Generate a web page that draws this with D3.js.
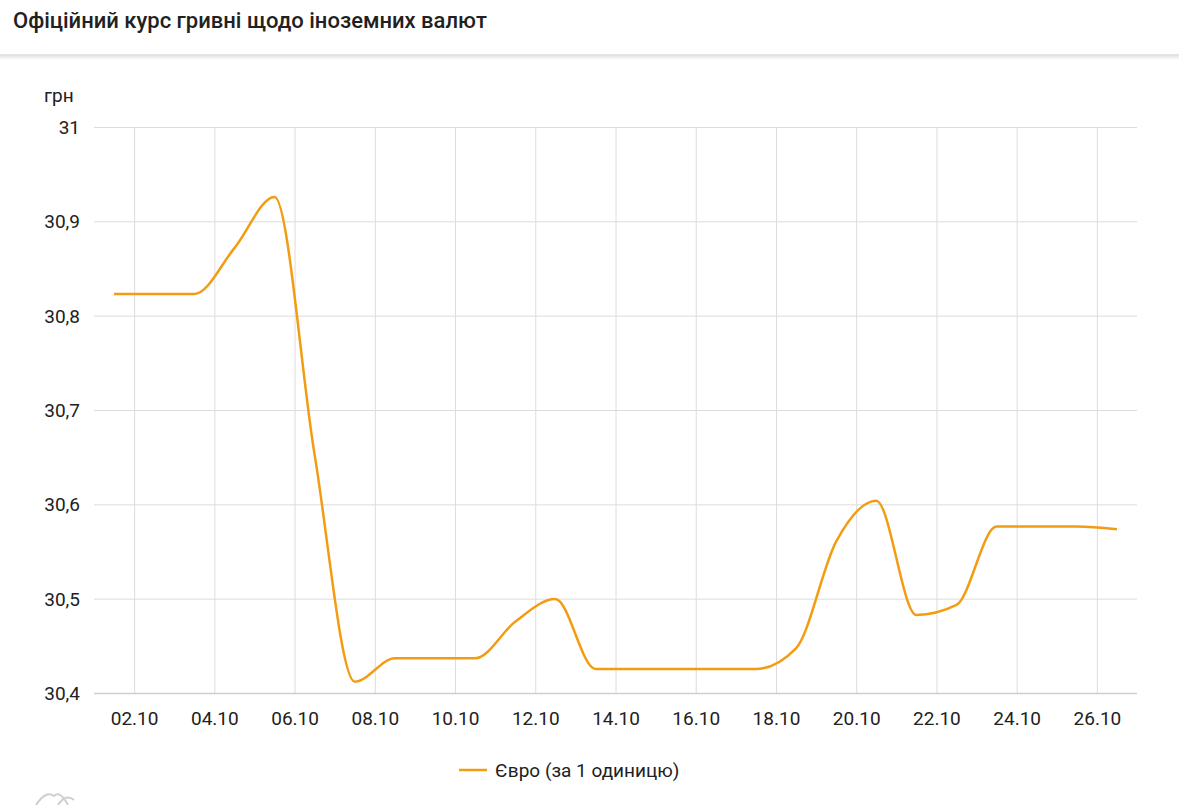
<!DOCTYPE html>
<html>
<head>
<meta charset="utf-8">
<script src="https://cdn.jsdelivr.net/npm/d3@7"></script>
<style>
  html, body { margin: 0; padding: 0; background: #fff; }
  svg { display: block; font-family: Roboto, "Noto Sans", sans-serif; }
</style>
</head>
<body>
<svg id="chart" width="1179" height="805"></svg>
<script>
// ---- data ----
const title = "Офіційний курс гривні щодо іноземних валют";
const unitLabel = "грн";
const seriesName = "Євро (за 1 одиницю)";
const days = [1,2,3,4,5,6,7,8,9,10,11,12,13,14,15,16,17,18,19,20,21,22,23,24,25,26];
const euro = [30.8229,30.8229,30.8229,30.8716,30.9257,30.6524,30.4120,30.4368,30.4368,30.4368,
              30.4756,30.4997,30.4255,30.4255,30.4255,30.4255,30.4255,30.4474,30.5605,30.6039,
              30.4827,30.4933,30.5764,30.5764,30.5764,30.5736];
const xTickDays = [2,4,6,8,10,12,14,16,18,20,22,24,26];
const yTicks = [30.4,30.5,30.6,30.7,30.8,30.9,31];

(function () {
const svg = d3.select("#chart");
const W = 1179;

// header
svg.append("text").attr("x", 13).attr("y", 28)
  .attr("font-size", 22).attr("font-weight", 500).attr("fill", "#212121").text(title);
const defs = svg.append("defs");
const grad = defs.append("linearGradient").attr("id","sh").attr("x1",0).attr("x2",0).attr("y1",0).attr("y2",1);
grad.append("stop").attr("offset","0").attr("stop-color","#000").attr("stop-opacity",0.12);
grad.append("stop").attr("offset","1").attr("stop-color","#000").attr("stop-opacity",0);
svg.append("rect").attr("x",0).attr("y",54).attr("width",W).attr("height",1).attr("fill","#e4e4e4");
svg.append("rect").attr("x",0).attr("y",55).attr("width",W).attr("height",5).attr("fill","url(#sh)");

// scales
const pl = 94, pr = 1137, pt = 127, pb = 693;
// data points (published at midday) on day scale
const x = d3.scaleLinear().domain([0.5, 26.5]).range([pl, pr]);
// date ticks at start of day
const xT = d3.scaleLinear().domain([1, 27]).range([pl, pr]);
const y = d3.scaleLinear().domain([30.4, 31]).range([pb, pt]);

const g = svg.append("g");

// horizontal grid + y labels
const ya = g.append("g").attr("transform", `translate(${pl},0)`)
  .call(d3.axisLeft(y).tickValues(yTicks).tickSize(-(pr-pl))
    .tickFormat(v => v === 31 ? "31" : d3.format(".1f")(v).replace(".", ",")));
ya.select(".domain").remove();
ya.selectAll(".tick line").attr("stroke", "#dcdcdc").attr("stroke-width", 1);
ya.selectAll(".tick text").attr("x", -14).attr("dy", "0.35em")
  .attr("font-size", 19).attr("fill", "#212121").attr("font-family", "Roboto, sans-serif");

// vertical grid + x labels
const xa = g.append("g").attr("transform", `translate(0,${pb})`)
  .call(d3.axisBottom(xT).tickValues(xTickDays).tickSize(-(pb-pt))
    .tickFormat(d => String(d).padStart(2,"0") + ".10"));
xa.select(".domain").remove();
xa.selectAll(".tick line").attr("stroke", "#dcdcdc").attr("stroke-width", 1);
xa.selectAll(".tick text").attr("y", 0).attr("dy", "32px")
  .attr("font-size", 19).attr("fill", "#212121").attr("font-family", "Roboto, sans-serif");

// bottom axis line
g.append("line").attr("x1", pl).attr("x2", pr).attr("y1", pb+0.5).attr("y2", pb+0.5)
  .attr("stroke", "#cfcfcf").attr("stroke-width", 1.5);

// unit label
svg.append("text").attr("x", 44).attr("y", 102).attr("font-size", 19).attr("fill", "#212121").text(unitLabel);

// series line
const line = d3.line()
  .x((d, i) => x(days[i]))
  .y(d => y(d))
  .curve(d3.curveMonotoneX);
g.append("path").datum(euro)
  .attr("d", line)
  .attr("fill", "none").attr("stroke", "#f39c12").attr("stroke-width", 2.5)
  .attr("stroke-linejoin", "round");

// legend
const lg = svg.append("g").attr("transform", "translate(459,770)");
lg.append("line").attr("x1", 0).attr("x2", 28).attr("y1", 0).attr("y2", 0)
  .attr("stroke", "#f39c12").attr("stroke-width", 2.5);
lg.append("text").attr("x", 36).attr("y", 0).attr("dy", "0.35em")
  .attr("font-size", 19).attr("fill", "#212121").text(seriesName);

// faint logo at bottom-left
svg.append("path").attr("d", "M36,805 Q46,790 54,796 Q60,790 68,805 M58,805 Q66,793 74,800")
  .attr("fill", "none").attr("stroke", "#cfcfcf").attr("stroke-width", 2);
})();
</script>
</body>
</html>
